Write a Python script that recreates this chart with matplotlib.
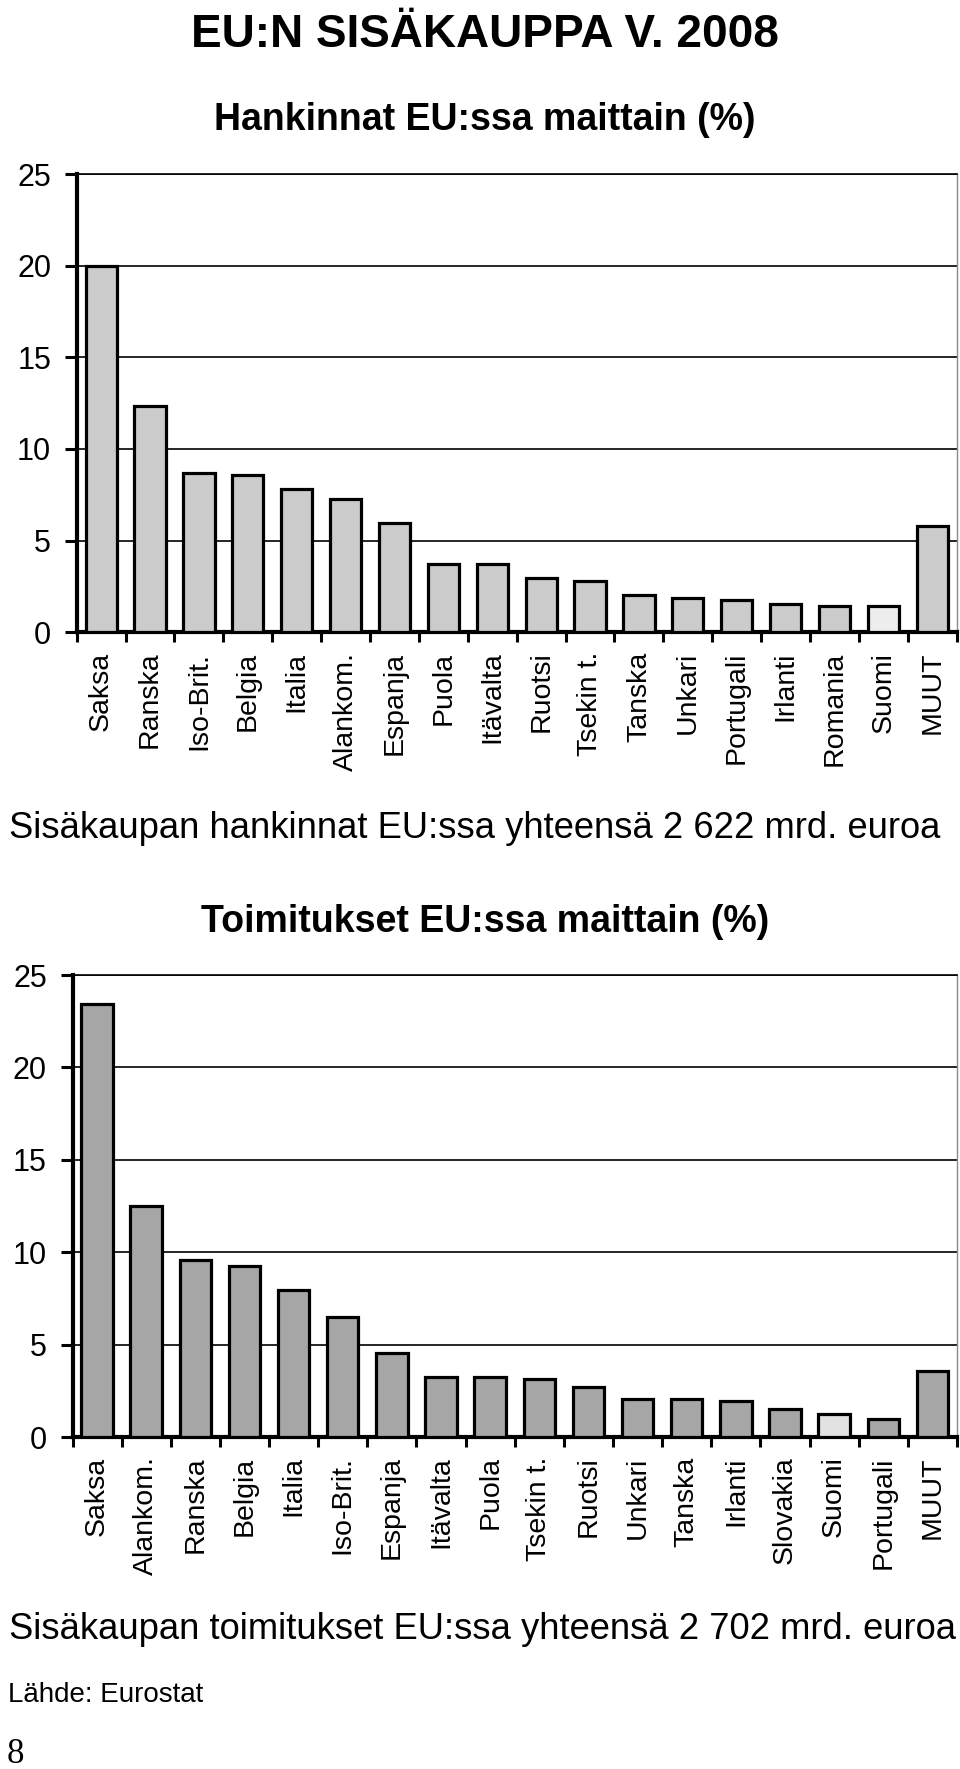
import numpy as np
import matplotlib
matplotlib.use("Agg")
import matplotlib.pyplot as plt

plt.rcParams['font.family'] = ['Liberation Sans', 'DejaVu Sans']

# ---- Data ----
hank_countries = ["Saksa", "Ranska", "Iso-Brit.", "Belgia", "Italia", "Alankom.",
                  "Espanja", "Puola", "Itävalta", "Ruotsi", "Tsekin t.", "Tanska",
                  "Unkari", "Portugali", "Irlanti", "Romania", "Suomi", "MUUT"]
hank_values = [20.0, 12.35, 8.7, 8.6, 7.8, 7.25, 5.95, 3.75, 3.75, 2.95, 2.8, 2.05,
               1.85, 1.75, 1.55, 1.45, 1.45, 5.8]

toim_countries = ["Saksa", "Alankom.", "Ranska", "Belgia", "Italia", "Iso-Brit.",
                  "Espanja", "Itävalta", "Puola", "Tsekin t.", "Ruotsi", "Unkari",
                  "Tanska", "Irlanti", "Slovakia", "Suomi", "Portugali", "MUUT"]
toim_values = [23.45, 12.5, 9.6, 9.25, 7.95, 6.5, 4.55, 3.25, 3.25, 3.15, 2.7, 2.05,
               2.05, 1.95, 1.5, 1.25, 1.0, 3.55]

y_ticks = [0, 5, 10, 15, 20, 25]

title = "EU:N SISÄKAUPPA V. 2008"
sub1 = "Hankinnat EU:ssa maittain (%)"
sub2 = "Toimitukset EU:ssa maittain (%)"
total1 = "Sisäkaupan hankinnat EU:ssa yhteensä 2 622 mrd. euroa"
total2 = "Sisäkaupan toimitukset EU:ssa yhteensä 2 702 mrd. euroa"
source = "Lähde: Eurostat"
page = "8"

W, H = 960, 1769
fig = plt.figure(figsize=(W / 100, H / 100), dpi=100)


def fx(px):
    return px / W


def fy(py):
    return 1 - py / H


def draw(ax, cats, vals, base_color, hl_color, hl_name):
    n = len(cats)
    x = np.arange(n)
    colors = [hl_color if c == hl_name else base_color for c in cats]
    ax.bar(x, vals, width=0.64, color=colors, edgecolor='black',
           linewidth=2.3, zorder=3)
    ax.set_xlim(-0.5, n - 0.5)
    ax.set_ylim(0, 25)
    ax.set_yticks(y_ticks)
    ax.set_yticklabels([str(v) for v in y_ticks])
    ax.yaxis.grid(True, color='black', linewidth=1.2)
    ax.set_axisbelow(True)
    ax.set_xticks(x)
    ax.set_xticklabels(cats, rotation=90, fontsize=20.5)
    ax.set_xticks(np.arange(n + 1) - 0.5, minor=True)
    ax.tick_params(axis='x', which='major', length=0, pad=14)
    ax.tick_params(axis='x', which='minor', length=7.5, width=2.2,
                   direction='out', color='black')
    ax.tick_params(axis='y', which='major', length=8.5, width=2.2,
                   direction='out', pad=10, labelsize=22)
    for s in ('left', 'bottom'):
        ax.spines[s].set_linewidth(3.0)
        ax.spines[s].set_color('black')
    ax.spines['top'].set_linewidth(1.2)
    ax.spines['top'].set_color('black')
    ax.spines['right'].set_linewidth(1.0)
    ax.spines['right'].set_color('#8a8a8a')


ax1 = fig.add_axes([fx(76.7), fy(632.3), fx(956.7) - fx(76.7), (632.3 - 174.0) / H])
draw(ax1, hank_countries, hank_values, '#cbcbcb', '#ededed', 'Suomi')

ax2 = fig.add_axes([fx(72.5), fy(1437), fx(957) - fx(72.5), (1437 - 975) / H])
draw(ax2, toim_countries, toim_values, '#a6a6a6', '#e2e2e2', 'Suomi')

fig.text(fx(485), fy(47), title, ha='center', va='baseline',
         fontsize=33, fontweight='bold')
fig.text(fx(485), fy(130), sub1, ha='center', va='baseline',
         fontsize=27, fontweight='bold')
fig.text(fx(485), fy(932), sub2, ha='center', va='baseline',
         fontsize=27, fontweight='bold')
fig.text(fx(9), fy(838), total1, ha='left', va='baseline', fontsize=26.2)
fig.text(fx(9), fy(1639), total2, ha='left', va='baseline', fontsize=26.2)
fig.text(fx(8), fy(1702), source, ha='left', va='baseline', fontsize=20)
fig.text(fx(7), fy(1763), page, ha='left', va='baseline', fontsize=25,
         family=['Liberation Serif', 'DejaVu Serif'])

fig.savefig("out.png", dpi=100, facecolor='white')
